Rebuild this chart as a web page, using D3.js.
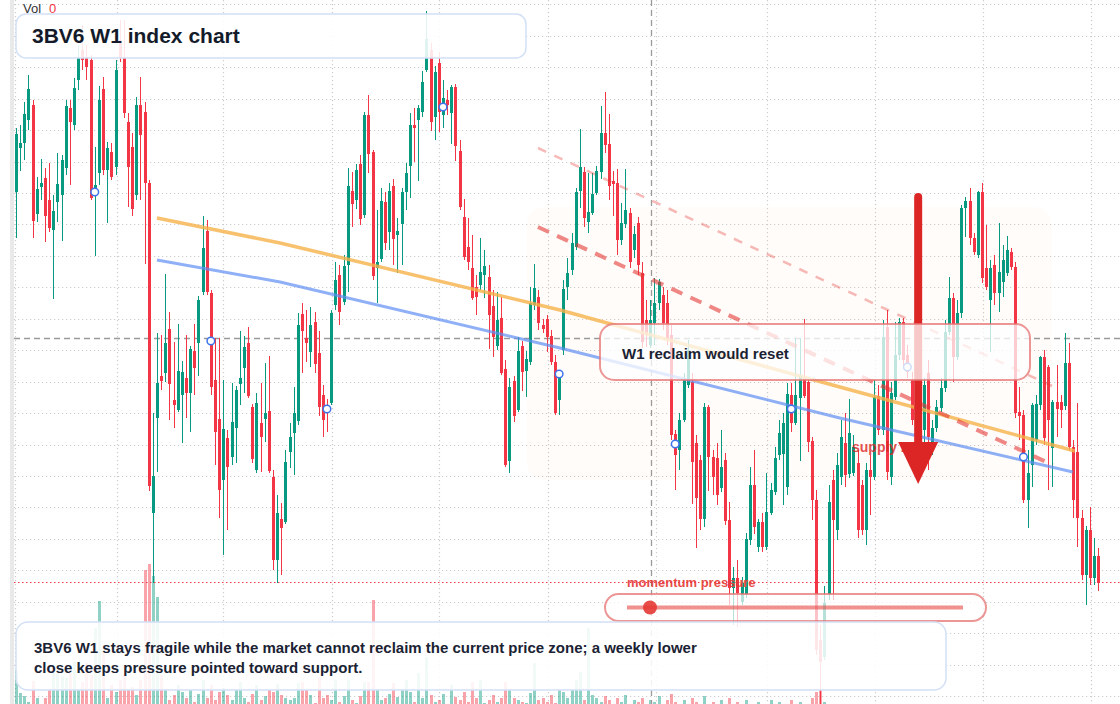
<!DOCTYPE html>
<html>
<head>
<meta charset="utf-8">
<script src="https://cdn.jsdelivr.net/npm/d3@7"></script>
<style>
  html, body { margin: 0; padding: 0; background: #fff; }
  svg { display: block; font-family: "Liberation Sans", Arial, Helvetica, sans-serif; }
</style>
</head>
<body>
<svg id="chart" width="1120" height="704"></svg>
<script>
// weekly bars, bar 0 = first bar on screen
var opens = [
  51.2, 55.6, 56.1, 58.4, 59.9, 49.0, 51.7, 52.6, 50.4, 47.4,
  50.2, 50.9, 53.6, 59.6, 57.9, 62.4, 65.4, 64.7, 64.4, 50.9,
  53.1, 61.5, 53.4, 55.2, 53.7, 66.4, 64.6, 58.2, 55.7, 50.9,
  59.9, 59.2, 52.1, 19.1, 28.6, 32.8, 33.1, 37.5, 30.4, 29.4,
  30.9, 32.6, 31.1, 35.3, 36.1, 41.2, 47.3, 41.1, 32.4, 28.5,
  22.4, 26.6, 24.7, 27.6, 32.0, 33.6, 36.1, 29.7, 23.4, 28.1,
  28.5, 29.3, 22.7, 14.4, 18.5, 18.2, 25.2, 27.1, 28.3, 39.0,
  36.6, 35.2, 38.2, 35.1, 30.9, 29.9, 30.1, 39.9, 42.9, 40.2,
  43.9, 51.3, 50.4, 54.0, 48.9, 58.9, 55.2, 43.6, 44.5, 50.2,
  47.2, 51.8, 46.9, 48.0, 51.2, 53.8, 57.9, 58.4, 59.2, 63.4,
  65.4, 58.7, 64.1, 58.9, 60.4, 59.1, 61.7, 55.3, 48.7, 45.7,
  43.6, 41.7, 41.9, 42.9, 42.7, 39.8, 35.8, 38.6, 33.5, 24.3,
  32.3, 29.4, 35.8, 33.3, 34.2, 39.9, 40.7, 37.9, 38.5, 36.8,
  34.2, 30.4, 35.4, 41.7, 43.4, 45.7, 51.3, 53.2, 48.2, 49.1,
  51.1, 53.2, 57.1, 56.0, 52.3, 52.1, 46.4, 48.0, 49.1, 45.4,
  48.1, 43.1, 38.4, 35.9, 38.1, 40.1, 40.9, 40.1, 36.9, 27.0,
  25.4, 28.4, 31.9, 32.2, 26.1, 24.4, 18.5, 29.7, 24.7, 24.6,
  21.6, 24.4, 18.4, 11.6, 12.6, 10.2, 10.9, 16.4, 21.9, 15.7,
  18.2, 15.7, 19.1, 21.2, 24.9, 25.0, 21.7, 30.9, 28.1, 30.6,
  32.6, 32.2, 26.3, 20.4, 6.4, 4.7, 10.9, 22.4, 17.4, 22.7,
  26.1, 23.0, 23.1, 24.1, 21.9, 17.4, 23.4, 22.7, 30.8, 27.4,
  37.7, 22.7, 30.7, 34.9, 38.2, 34.9, 32.4, 28.4, 30.9, 27.4,
  33.1, 25.4, 27.6, 29.6, 31.6, 37.2, 40.6, 34.7, 39.1, 49.6,
  50.3, 46.6, 44.9, 51.2, 43.6, 40.4, 43.9, 41.1, 42.2, 43.1,
  45.2, 43.7, 29.2, 28.9, 20.4, 23.9, 26.4, 29.9, 34.7, 33.7,
  25.6, 30.2, 30.2, 29.8, 34.1, 25.7, 25.2, 18.6, 12.9, 17.4,
  12.6, 14.8
];
var highs = [
  57.6, 57.9, 60.2, 62.9, 60.4, 52.7, 54.5, 53.6, 54.1, 50.9,
  55.1, 54.9, 60.4, 60.4, 62.6, 65.9, 67.9, 65.9, 64.9, 55.7,
  61.8, 62.7, 56.2, 56.1, 64.4, 68.4, 68.4, 59.1, 57.1, 60.7,
  62.7, 60.2, 52.4, 29.1, 37.1, 36.9, 43.0, 39.2, 36.2, 38.0,
  34.3, 36.9, 35.8, 38.0, 40.8, 48.8, 48.4, 41.4, 36.6, 36.6,
  32.4, 27.4, 32.1, 31.8, 37.3, 36.8, 37.7, 30.0, 31.1, 32.1,
  34.1, 34.8, 23.4, 20.9, 20.1, 25.4, 28.1, 31.7, 39.1, 40.1,
  39.4, 39.7, 39.2, 37.3, 31.9, 30.5, 39.4, 44.2, 43.9, 44.9,
  53.6, 53.2, 54.0, 54.9, 59.2, 60.9, 55.4, 49.4, 51.6, 51.2,
  52.1, 52.5, 48.6, 51.6, 54.1, 59.1, 59.6, 59.9, 63.3, 69.3,
  66.1, 63.8, 65.2, 62.4, 61.4, 61.9, 62.0, 56.4, 50.5, 48.6,
  46.9, 42.9, 46.6, 45.4, 43.9, 41.4, 41.2, 40.7, 34.4, 32.6,
  32.8, 36.7, 36.3, 35.3, 41.7, 44.0, 41.4, 38.5, 38.9, 37.4,
  34.9, 33.4, 42.4, 44.6, 47.1, 51.6, 57.5, 53.7, 53.1, 53.1,
  53.8, 59.8, 61.2, 59.0, 53.3, 53.5, 50.1, 53.5, 49.6, 47.8,
  48.7, 44.2, 40.4, 40.4, 42.6, 42.5, 41.7, 41.4, 37.9, 27.4,
  29.1, 33.1, 36.4, 33.1, 26.9, 24.9, 30.1, 29.9, 25.4, 26.1,
  27.4, 25.1, 20.2, 13.7, 14.4, 12.7, 17.1, 23.7, 25.4, 18.5,
  19.1, 23.1, 22.1, 25.7, 28.4, 29.1, 32.1, 32.1, 36.6, 36.6,
  38.5, 32.4, 26.7, 21.4, 7.9, 11.8, 21.9, 23.4, 25.1, 28.4,
  29.1, 30.5, 26.9, 25.4, 22.4, 24.1, 24.9, 32.4, 31.9, 38.4,
  39.4, 32.2, 38.2, 38.6, 38.6, 35.9, 33.2, 31.9, 31.4, 32.6,
  34.4, 28.4, 30.4, 32.6, 38.4, 42.7, 41.1, 40.4, 49.9, 50.7,
  51.6, 47.1, 51.3, 52.1, 47.9, 44.4, 44.9, 48.1, 45.9, 46.8,
  45.6, 44.2, 31.7, 29.4, 25.4, 30.1, 30.9, 34.8, 35.4, 33.9,
  30.4, 33.9, 30.9, 37.1, 36.1, 26.4, 30.1, 19.4, 17.8, 19.7,
  16.6, 15.6
];
var lows = [
  46.6, 53.3, 54.4, 57.4, 46.6, 48.2, 50.4, 46.2, 47.2, 40.5,
  48.2, 46.3, 52.9, 51.9, 57.4, 61.4, 63.4, 62.4, 50.4, 44.8,
  51.9, 52.9, 48.1, 52.4, 52.9, 64.2, 58.6, 49.7, 48.8, 50.4,
  50.4, 44.0, 21.3, 12.1, 23.2, 31.4, 32.2, 28.4, 27.6, 29.2,
  26.1, 28.6, 27.2, 30.9, 32.8, 40.9, 40.9, 30.9, 23.9, 18.6,
  14.9, 17.4, 23.9, 24.1, 29.9, 31.1, 30.6, 24.1, 23.1, 23.2,
  26.2, 23.1, 13.4, 12.1, 12.9, 18.0, 23.6, 22.9, 27.9, 33.1,
  34.2, 33.7, 33.1, 28.8, 26.7, 27.2, 29.9, 39.4, 37.9, 39.9,
  41.2, 47.7, 49.5, 47.9, 48.6, 53.1, 42.4, 40.1, 44.2, 45.4,
  45.4, 43.9, 43.1, 43.9, 49.4, 50.6, 54.2, 52.3, 58.7, 63.2,
  57.3, 56.4, 57.2, 57.6, 58.9, 56.0, 54.3, 49.4, 44.4, 43.4,
  40.4, 38.9, 41.4, 40.6, 35.5, 34.7, 35.4, 32.9, 23.7, 23.1,
  28.2, 29.2, 31.3, 30.7, 33.9, 39.4, 37.4, 37.1, 35.2, 33.9,
  28.9, 28.9, 34.9, 40.4, 42.9, 45.4, 49.6, 47.7, 47.1, 48.9,
  50.9, 52.5, 55.1, 50.4, 48.8, 44.9, 45.9, 47.6, 43.6, 44.6,
  42.9, 35.6, 35.7, 35.6, 35.9, 39.4, 37.4, 35.9, 26.4, 21.4,
  23.4, 28.2, 31.6, 20.0, 15.6, 17.4, 17.7, 21.3, 20.9, 19.9,
  21.2, 17.9, 9.9, 7.9, 7.7, 9.9, 10.6, 15.9, 17.0, 15.2,
  15.2, 15.4, 18.9, 20.9, 24.4, 19.9, 20.9, 27.2, 27.9, 24.3,
  30.6, 25.2, 18.4, 4.9, 0.0, 4.4, 10.4, 10.4, 16.4, 21.9,
  21.7, 22.6, 22.8, 16.6, 16.9, 15.9, 18.9, 22.4, 26.9, 26.9,
  22.4, 21.9, 30.4, 34.4, 33.9, 32.6, 27.9, 27.4, 26.4, 25.9,
  23.4, 24.9, 27.2, 29.2, 31.2, 36.9, 32.2, 34.4, 38.6, 46.7,
  45.9, 44.9, 44.6, 42.1, 41.4, 35.2, 39.9, 39.2, 40.7, 42.8,
  43.4, 28.6, 26.4, 20.1, 17.6, 21.7, 25.9, 29.4, 25.9, 21.4,
  21.7, 26.7, 27.6, 29.4, 25.4, 18.6, 15.7, 12.4, 9.9, 11.9,
  11.9, 11.3
];
var closes = [
  57.0, 56.1, 59.0, 61.5, 48.3, 51.5, 52.1, 48.8, 47.6, 49.3,
  52.0, 54.4, 59.8, 58.2, 61.6, 64.7, 64.4, 63.7, 50.6, 51.9,
  60.4, 53.4, 55.6, 52.7, 63.4, 64.6, 59.1, 53.7, 49.5, 59.9,
  56.9, 52.1, 21.8, 22.8, 32.1, 32.3, 36.1, 32.0, 29.9, 33.3,
  33.2, 31.1, 35.5, 33.6, 40.4, 45.6, 41.2, 31.7, 27.2, 21.4,
  27.5, 23.7, 28.2, 31.4, 32.6, 35.7, 30.8, 24.5, 30.1, 26.7,
  29.1, 23.3, 14.4, 19.1, 17.6, 24.2, 26.7, 29.1, 37.9, 37.3,
  36.1, 37.9, 34.0, 29.7, 28.4, 29.2, 39.1, 42.4, 39.2, 43.8,
  51.8, 50.0, 53.4, 48.5, 58.9, 55.0, 42.8, 44.2, 50.3, 46.1,
  51.3, 46.5, 47.3, 51.2, 53.1, 57.9, 57.6, 59.6, 62.2, 66.5,
  58.2, 63.2, 59.2, 60.6, 59.9, 61.7, 55.8, 49.7, 44.7, 44.2,
  40.6, 40.7, 43.2, 43.8, 38.9, 36.7, 38.4, 33.1, 23.9, 31.7,
  28.8, 35.3, 33.2, 34.5, 40.1, 41.6, 38.1, 37.5, 36.7, 34.2,
  29.1, 32.7, 41.5, 43.1, 46.1, 51.2, 53.7, 48.6, 49.2, 51.0,
  53.3, 57.1, 55.9, 51.8, 52.0, 46.4, 48.1, 49.4, 44.2, 47.0,
  43.9, 36.2, 36.9, 38.4, 40.1, 42.2, 38.1, 36.4, 26.9, 24.9,
  28.4, 32.4, 35.4, 24.2, 20.6, 18.5, 29.7, 24.7, 22.7, 20.9,
  23.7, 18.3, 11.6, 12.6, 11.1, 12.1, 16.5, 21.9, 17.7, 18.2,
  15.7, 19.2, 21.4, 24.6, 27.1, 28.1, 31.0, 28.1, 30.9, 32.8,
  30.8, 26.2, 20.4, 5.4, 4.2, 10.1, 20.2, 18.4, 23.9, 26.7,
  22.9, 27.1, 25.7, 17.4, 17.4, 23.4, 22.7, 30.7, 27.4, 36.7,
  23.2, 31.1, 34.9, 38.2, 34.4, 33.2, 28.4, 30.9, 27.4, 31.9,
  26.7, 27.6, 29.7, 31.6, 37.2, 40.6, 34.7, 39.1, 49.6, 50.3,
  46.6, 45.2, 51.2, 42.6, 41.7, 43.6, 41.1, 43.2, 44.4, 45.4,
  43.7, 29.1, 28.8, 20.4, 23.1, 29.9, 30.0, 34.7, 26.6, 28.4,
  30.2, 29.5, 29.4, 34.1, 25.7, 20.4, 18.6, 12.9, 17.4, 12.6,
  14.8, 12.1
];
var volumes = [
  50, 27, 24, 18, 39, 22, 16, 22, 30, 50,
  47, 44, 42, 47, 58, 30, 38, 57, 45, 92,
  119, 67, 22, 35, 28, 40, 45, 30, 33, 25,
  40, 150, 156, 144, 123, 45, 30, 20, 25, 35,
  28, 22, 30, 18, 26, 40, 22, 35, 20, 28,
  32, 25, 20, 30, 38, 22, 18, 26, 35, 20,
  24, 30, 28, 36, 25, 22, 20, 22, 37, 38,
  30, 25, 17, 43, 22, 25, 20, 40, 18, 24,
  40, 20, 17, 24, 38, 38, 120, 31, 20, 22,
  26, 37, 23, 30, 40, 28, 18, 47, 22, 63,
  25, 18, 20, 26, 15, 35, 23, 20, 28, 18,
  38, 22, 40, 17, 20, 25, 18, 22, 38, 30,
  22, 20, 18, 17, 27, 57, 20, 22, 18, 25,
  17, 30, 28, 22, 30, 40, 48, 20, 92, 25,
  22, 18, 24, 20, 16, 22, 18, 25, 14, 20,
  18, 22, 15, 20, 18, 24, 16, 20, 26, 18,
  14, 20, 12, 22, 18, 16, 24, 12, 18, 14,
  20, 16, 22, 14, 18, 12, 20, 16, 14, 18,
  12, 16, 20, 14, 18, 12, 16, 20, 14, 18,
  12, 16, 22, 28, 30, 18, 14, 12, 16, 10,
  12, 10, 14, 8, 12, 10, 14, 9, 12, 10,
  14, 10, 8, 12, 9, 11, 8, 12, 10, 9,
  12, 8, 10, 9, 11, 8, 12, 9, 14, 10,
  8, 10, 12, 9, 8, 11, 9, 10, 8, 12,
  9, 14, 10, 12, 8, 10, 9, 11, 8, 10,
  9, 8, 10, 12, 9, 11, 8, 10, 9, 12,
  8, 10
];

// hollow markers every 28 bars
var markerBars = [19, 47, 75, 103, 131, 159, 187, 215, 243];
var markerValues = [51.2, 36.3, 29.5, 59.7, 33.0, 26.0, 29.5, 33.7, 24.7];

// trend lines
var orangeBars = [34, 63.7, 131.2, 198.7, 255.4];
var orangeValues = [48.6, 46.1, 39.4, 31.7, 25.3];
var blueBars = [34, 63.7, 131.2, 198.7, 254.9];
var blueValues = [44.4, 42.2, 35.6, 28.6, 23.2];
var thinDashBars = [125.9, 249.9];
var thinDashValues = [55.6, 31.8];
var thickDashBars = [125.9, 250.1];
var thickDashValues = [47.7, 23.9];

// levels
var crossPrice = 36.6, crossBar = 153.2;
var supportPrice = 12.17;
var zoneBars = [123.2, 249.8], zonePrices = [49.7, 22.4];
var arrowBar = 217.6, arrowPrices = [50.7, 26.2, 22.0];

var priceTicks = [69.97, 66.83, 63.68, 60.54, 57.39, 54.25, 51.11, 47.96, 44.82, 41.67,
  38.53, 35.39, 32.24, 29.10, 25.95, 22.81, 19.67, 16.52, 13.38, 10.23, 7.09, 3.95, 0.80];
var timeTicks = [24.3, 50.0, 76.1, 102.1, 128.2, 154.3, 181.2, 207.3, 233.2, 259.2];

var W = 1120, H = 704;
var UP = "#089981", DOWN = "#f23645";

var x = d3.scaleLinear().domain([0, 261]).range([16, 1098.1]);
var y = d3.scaleLinear().domain([0, 70.4]).range([704, 0]);
var v = d3.scaleLinear().domain([0, 160]).range([720, 560]);

var bars = opens.map(function(o, i) {
  return {i: i, o: o, h: highs[i], l: lows[i], c: closes[i], vol: volumes[i]};
});

var svg = d3.select("#chart");
svg.append("rect").attr("width", W).attr("height", H).attr("fill", "#fff");
svg.append("rect").attr("x", 10).attr("y", 0).attr("width", 4).attr("height", H).attr("fill", "#e9e9e9");

var defs = svg.append("defs");
defs.append("clipPath").attr("id", "plot").append("rect")
  .attr("x", 14).attr("y", 0).attr("width", W - 14).attr("height", H);

var plot = svg.append("g").attr("clip-path", "url(#plot)");

// grid
var grid = plot.append("g").attr("stroke", "#cdcdcd").attr("stroke-width", 1.2).attr("stroke-dasharray", "1.2,2.8");
grid.selectAll(".gh").data(priceTicks).enter().append("line")
  .attr("x1", 14).attr("x2", W)
  .attr("y1", function(d) { return Math.round(y(d)) + 0.5; })
  .attr("y2", function(d) { return Math.round(y(d)) + 0.5; });
grid.selectAll(".gv").data(timeTicks).enter().append("line")
  .attr("y1", 0).attr("y2", H)
  .attr("x1", function(d) { return Math.round(x(d)) + 0.5; })
  .attr("x2", function(d) { return Math.round(x(d)) + 0.5; });
grid.append("line").attr("x1", 15.5).attr("x2", 15.5).attr("y1", 0).attr("y2", H);

// supply zone
plot.append("rect")
  .attr("x", x(zoneBars[0])).attr("width", x(zoneBars[1]) - x(zoneBars[0]))
  .attr("y", y(zonePrices[0])).attr("height", y(zonePrices[1]) - y(zonePrices[0]))
  .attr("rx", 18).attr("fill", "#f5a070").attr("opacity", 0.035);

// volume
plot.append("g").selectAll("rect").data(bars).enter().append("rect")
  .attr("x", function(d) { return Math.round(x(d.i)) - 1; })
  .attr("width", 3)
  .attr("y", function(d) { return v(d.vol); })
  .attr("height", function(d) { return v(0) - v(d.vol); })
  .attr("fill", function(d) { return d.c >= d.o ? UP : DOWN; })
  .attr("opacity", 0.45);

// crosshair + support level
plot.append("line").attr("x1", 14).attr("x2", W)
  .attr("y1", Math.round(y(crossPrice)) + 0.5).attr("y2", Math.round(y(crossPrice)) + 0.5)
  .attr("stroke", "#9a9a9a").attr("stroke-width", 1.3).attr("stroke-dasharray", "6,4");
plot.append("line").attr("y1", 0).attr("y2", H)
  .attr("x1", Math.round(x(crossBar)) + 0.5).attr("x2", Math.round(x(crossBar)) + 0.5)
  .attr("stroke", "#9a9a9a").attr("stroke-width", 1.3).attr("stroke-dasharray", "6,4");
plot.append("line").attr("x1", 14).attr("x2", W)
  .attr("y1", Math.round(y(supportPrice)) + 0.5).attr("y2", Math.round(y(supportPrice)) + 0.5)
  .attr("stroke", DOWN).attr("stroke-width", 1.2).attr("stroke-dasharray", "1.5,2.5");

// candles
var candle = plot.append("g").selectAll("g").data(bars).enter().append("g")
  .attr("fill", function(d) { return d.c >= d.o ? UP : DOWN; })
  .attr("stroke", function(d) { return d.c >= d.o ? UP : DOWN; });
candle.append("line")
  .attr("x1", function(d) { return Math.round(x(d.i)) + 0.5; })
  .attr("x2", function(d) { return Math.round(x(d.i)) + 0.5; })
  .attr("y1", function(d) { return y(d.h); })
  .attr("y2", function(d) { return y(d.l); })
  .attr("stroke-width", 1);
candle.append("rect")
  .attr("stroke", "none")
  .attr("x", function(d) { return Math.round(x(d.i)) - 1; })
  .attr("width", 3)
  .attr("y", function(d) { return y(Math.max(d.o, d.c)); })
  .attr("height", function(d) { return Math.max(1, Math.abs(y(d.o) - y(d.c))); });

// trend lines
var line = d3.line().x(function(d) { return x(d[0]); }).y(function(d) { return y(d[1]); });
plot.append("path").datum(d3.zip(orangeBars, orangeValues)).attr("d", line)
  .attr("fill", "none").attr("stroke", "#f6b24a").attr("stroke-width", 3.5).attr("opacity", 0.8);
plot.append("path").datum(d3.zip(blueBars, blueValues)).attr("d", line)
  .attr("fill", "none").attr("stroke", "#5f8ff2").attr("stroke-width", 3).attr("opacity", 0.7);
plot.append("path").datum(d3.zip(thinDashBars, thinDashValues)).attr("d", line)
  .attr("fill", "none").attr("stroke", "#e53935").attr("stroke-width", 2.5)
  .attr("stroke-dasharray", "9,9").attr("opacity", 0.35);
plot.append("path").datum(d3.zip(thickDashBars, thickDashValues)).attr("d", line)
  .attr("fill", "none").attr("stroke", "#e53935").attr("stroke-width", 4)
  .attr("stroke-dasharray", "12,9").attr("opacity", 0.6);

// markers
plot.append("g").selectAll("circle").data(d3.zip(markerBars, markerValues)).enter().append("circle")
  .attr("cx", function(d) { return x(d[0]); })
  .attr("cy", function(d) { return y(d[1]); })
  .attr("r", 3.8).attr("fill", "#fff").attr("stroke", "#3f73ec").attr("stroke-width", 1.5);

// momentum pressure pill
svg.append("text").attr("x", 627).attr("y", 587).text("momentum pressure")
  .attr("font-size", 13).attr("font-weight", "bold").attr("fill", "#e53935").attr("opacity", 0.9);
svg.append("rect").attr("x", 605).attr("y", 594).attr("width", 381).attr("height", 27).attr("rx", 13.5)
  .attr("fill", "#fff").attr("fill-opacity", 0.7).attr("stroke", "#e57373").attr("stroke-opacity", 0.75).attr("stroke-width", 2);
svg.append("line").attr("x1", 627).attr("x2", 963).attr("y1", 607.5).attr("y2", 607.5)
  .attr("stroke", "#e53935").attr("stroke-width", 4).attr("opacity", 0.55);
svg.append("circle").attr("cx", 650).attr("cy", 607.5).attr("r", 7).attr("fill", "#e53935").attr("opacity", 0.9);

// supply zone label + arrow
svg.append("text").attr("x", 852).attr("y", 452).text("supply zone")
  .attr("font-size", 14).attr("font-weight", "bold").attr("fill", "#dc2626").attr("opacity", 0.8);
var ax = x(arrowBar);
svg.append("line").attr("x1", ax).attr("x2", ax)
  .attr("y1", y(arrowPrices[0])).attr("y2", y(arrowPrices[1]) + 2)
  .attr("stroke", "#dc2626").attr("stroke-width", 8).attr("stroke-linecap", "round");
svg.append("path")
  .attr("d", "M" + (ax - 20) + "," + y(arrowPrices[1]) + "L" + (ax + 20) + "," + y(arrowPrices[1]) +
    "L" + ax + "," + y(arrowPrices[2]) + "Z")
  .attr("fill", "#dc2626");

// reclaim note
svg.append("rect").attr("x", 600).attr("y", 324).attr("width", 430).attr("height", 56).attr("rx", 14)
  .attr("fill", "#fff").attr("fill-opacity", 0.75).attr("stroke", "#e57373").attr("stroke-opacity", 0.75).attr("stroke-width", 2);
svg.append("text").attr("x", 622).attr("y", 359).text("W1 reclaim would reset")
  .attr("font-size", 15).attr("font-weight", "bold").attr("fill", "#1a2233");

// title
svg.append("rect").attr("x", 16).attr("y", 14).attr("width", 510).attr("height", 44).attr("rx", 10)
  .attr("fill", "#fff").attr("fill-opacity", 0.88).attr("stroke", "#d3e0f6").attr("stroke-width", 1.5);
svg.append("text").attr("x", 32).attr("y", 43).text("3BV6 W1 index chart")
  .attr("font-size", 21).attr("font-weight", "bold").attr("fill", "#131b2b");

// bottom note
svg.append("rect").attr("x", 16).attr("y", 622).attr("width", 930).attr("height", 68).attr("rx", 12)
  .attr("fill", "#fff").attr("fill-opacity", 0.88).attr("stroke", "#d3e0f6").attr("stroke-width", 1.5);
var note = svg.append("text").attr("font-size", 15).attr("font-weight", "bold").attr("fill", "#1a2233");
note.append("tspan").attr("x", 34).attr("y", 653)
  .text("3BV6 W1 stays fragile while the market cannot reclaim the current price zone; a weekly lower");
note.append("tspan").attr("x", 34).attr("y", 673)
  .text("close keeps pressure pointed toward support.");

// volume legend
var leg = svg.append("text").attr("x", 23).attr("y", 13).attr("font-size", 13);
leg.append("tspan").attr("fill", "#333").text("Vol");
leg.append("tspan").attr("x", 49).attr("fill", "#f23645").text("0");
</script>
</body>
</html>
